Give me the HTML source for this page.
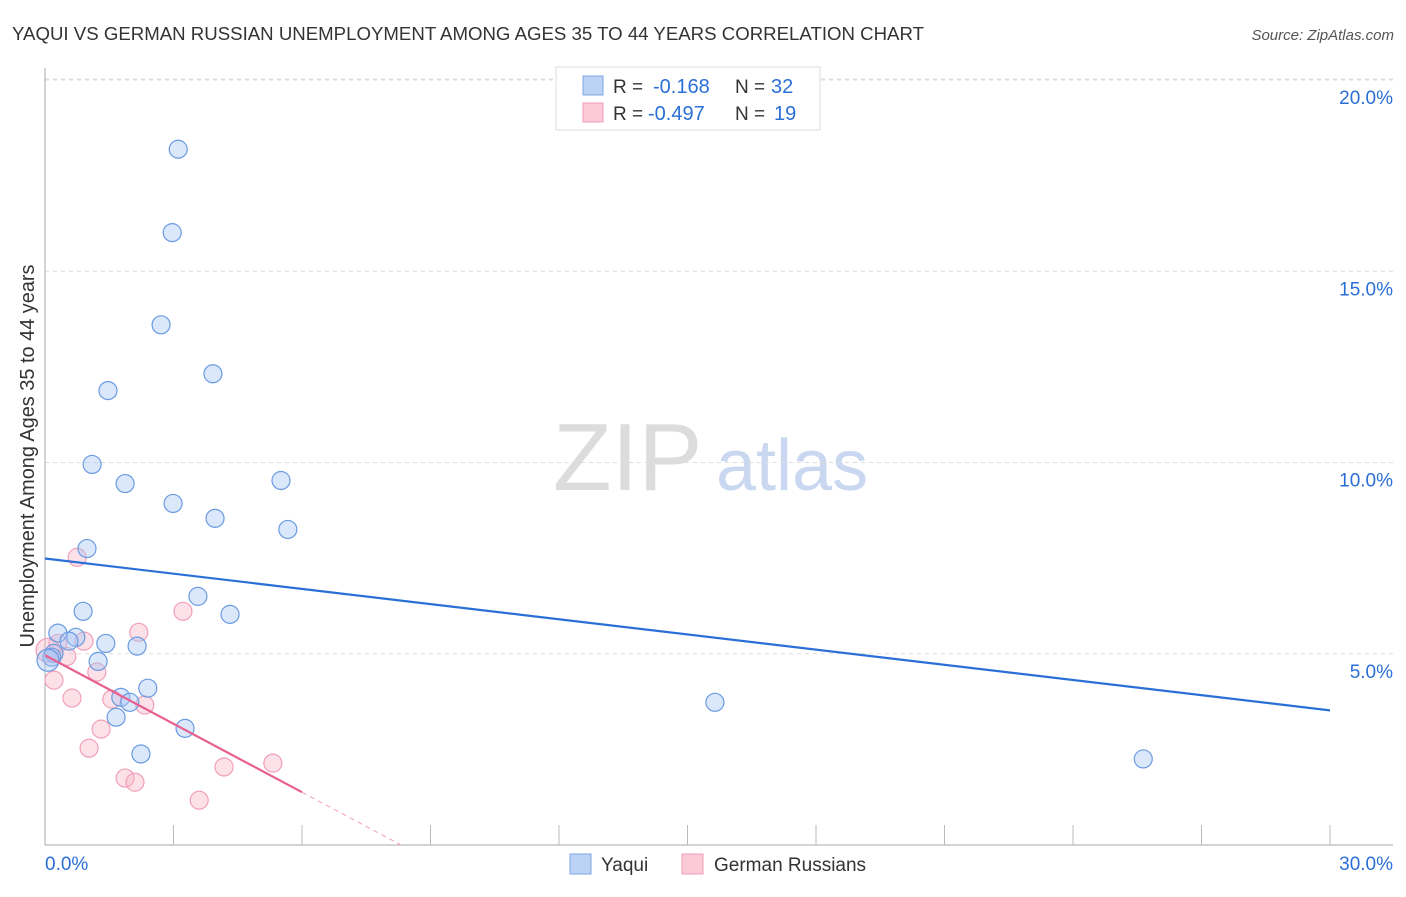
<!DOCTYPE html>
<html><head><meta charset="utf-8"><style>
body{margin:0;background:#fff;font-family:"Liberation Sans",sans-serif;}
svg text{font-family:"Liberation Sans",sans-serif;}
</style></head><body>
<svg id="chart" width="1406" height="892" xmlns="http://www.w3.org/2000/svg">
<text x="12" y="40" font-size="18" fill="#333" textLength="912" lengthAdjust="spacingAndGlyphs">YAQUI VS GERMAN RUSSIAN UNEMPLOYMENT AMONG AGES 35 TO 44 YEARS CORRELATION CHART</text>
<text x="1394" y="40" font-size="15" fill="#555" font-style="italic" text-anchor="end">Source: ZipAtlas.com</text>
<text x="0" y="0" transform="translate(34,456) rotate(-90)" font-size="20" fill="#333" text-anchor="middle" textLength="383" lengthAdjust="spacingAndGlyphs">Unemployment Among Ages 35 to 44 years</text>
<g>
<text x="553" y="490" font-size="96" fill="#dcdcdc" font-family="Liberation Serif, serif">ZIP</text>
<text x="716" y="490" font-size="72" fill="#c9d8f0">atlas</text>
</g>
<g id="grid"></g>
<g id="marks"></g>
<g>
<rect x="556" y="67" width="264" height="63" fill="#fff" stroke="#ddd"/>
<rect x="583" y="76" width="20" height="19" fill="#bcd3f5" stroke="#7ea6e3"/>
<rect x="583" y="103" width="20" height="19" fill="#fbc9d8" stroke="#f0a0b8"/>
<text x="613" y="93" font-size="19" fill="#333">R = </text><text x="653" y="93" font-size="20" fill="#2a6fd6">-0.168</text>
<text x="735" y="93" font-size="19" fill="#333">N = </text><text x="771" y="93" font-size="20" fill="#2a6fd6">32</text>
<text x="613" y="120" font-size="19" fill="#333">R = </text><text x="648" y="120" font-size="20" fill="#2a6fd6">-0.497</text>
<text x="735" y="120" font-size="19" fill="#333">N = </text><text x="774" y="120" font-size="20" fill="#2a6fd6">19</text>
</g>
<g>
<rect x="570" y="854" width="21" height="20" fill="#bcd3f5" stroke="#7ea6e3"/>
<text x="601" y="871" font-size="19" fill="#333">Yaqui</text>
<rect x="682" y="854" width="21" height="20" fill="#fbc9d8" stroke="#f0a0b8"/>
<text x="714" y="871" font-size="19" fill="#333">German Russians</text>
</g>
</svg>
<script>
const yTicks=[5,10,15,20];
const yTickLabels=["5.0%","10.0%","15.0%","20.0%"];
const xEndLabels=["0.0%","30.0%"];
const yaquiX=[3.11,2.97,2.71,3.92,1.47,1.10,1.87,2.99,3.97,5.51,5.67,0.98,3.57,0.89,4.32,0.30,0.72,0.56,1.42,2.15,0.21,0.16,1.24,2.40,1.77,1.98,1.66,3.27,2.24,15.64,25.64,0.07];
const yaquiY=[18.19,16.01,13.60,12.32,11.88,9.95,9.45,8.93,8.54,9.53,8.25,7.75,6.50,6.11,6.03,5.54,5.43,5.33,5.27,5.20,5.01,4.91,4.80,4.10,3.86,3.73,3.34,3.05,2.38,3.73,2.25,4.83];
const grX=[0.75,3.22,2.19,0.91,0.30,0.51,1.21,0.21,0.63,1.56,2.33,1.31,1.03,4.18,5.32,1.87,2.10,3.60,0.07];
const grY=[7.52,6.11,5.56,5.33,5.27,4.93,4.52,4.31,3.84,3.81,3.66,3.03,2.53,2.04,2.14,1.75,1.64,1.17,5.09];
const yaquiTrend=[7.49,3.52];
const grTrend=[4.96,1.38,6.0];

const X=v=>45+v*(1285/30);
const Y=v=>845-v*(765/20);
const NS="http://www.w3.org/2000/svg";
function mk(tag,attrs,parent){const e=document.createElementNS(NS,tag);for(const k in attrs)e.setAttribute(k,attrs[k]);parent.appendChild(e);return e;}
const grid=document.getElementById('grid'),marks=document.getElementById('marks');
yTicks.forEach((t,i)=>{
  const l=mk('line',{x1:45,x2:1393,y1:Y(t),y2:Y(t),stroke:'#ddd','stroke-dasharray':'4,4'},grid);
  
  
  const tx=mk('text',{x:1393,y:Y(t)+24,'font-size':19,fill:'#2a6fd6','text-anchor':'end'},grid);
  tx.textContent=yTickLabels[i];
  
  
});
const tl=mk('line',{x1:45,x2:1393,y1:Y(20)-1,y2:Y(20)-1,stroke:'#ddd','stroke-dasharray':'4,4'},grid);


const ya=mk('line',{x1:45,x2:45,y1:68,y2:845,stroke:'#aaa'},grid);


const xa=mk('line',{x1:45,x2:1393,y1:845,y2:845,stroke:'#aaa'},grid);


for(let i=1;i<=10;i++){
  const t=mk('line',{x1:X(i*3),x2:X(i*3),y1:825,y2:845,stroke:'#bbb'},grid);
  
  
}
[[0,'start',45],[30,'end',1393]].forEach((d,i)=>{
  const t=mk('text',{x:d[2],y:870,'font-size':19,fill:'#2a6fd6','text-anchor':d[1]},grid);
  t.textContent=xEndLabels[i];
  
  
});
grX.forEach((v,i)=>{
  const c=mk('circle',{cx:X(v),cy:Y(grY[i]),r:(i==grX.length-1?12:9),fill:'rgba(248,180,200,0.4)',stroke:'#f0a0b8','stroke-width':1.2},marks);
  
  
});
yaquiX.forEach((v,i)=>{
  const c=mk('circle',{cx:X(v),cy:Y(yaquiY[i]),r:(i==yaquiX.length-1?11:9),fill:'rgba(164,194,244,0.4)',stroke:'#6a9be0','stroke-width':1.2},marks);
  
  
});
const bl=mk('line',{x1:X(0),y1:Y(yaquiTrend[0]),x2:X(30),y2:Y(yaquiTrend[1]),stroke:'#2a6fd6','stroke-width':2.2},marks);


const slope=(grTrend[1]-grTrend[0])/grTrend[2];
const pl=mk('line',{x1:X(0),y1:Y(grTrend[0]),x2:X(grTrend[2]),y2:Y(grTrend[1]),stroke:'#e8608f','stroke-width':2.2},marks);


const xz=-grTrend[0]/slope;
const pd=mk('line',{x1:X(grTrend[2]),y1:Y(grTrend[1]),x2:X(xz),y2:Y(0),stroke:'#f0a0b8','stroke-width':1,'stroke-dasharray':'5,4'},marks);


</script>
</body></html>
